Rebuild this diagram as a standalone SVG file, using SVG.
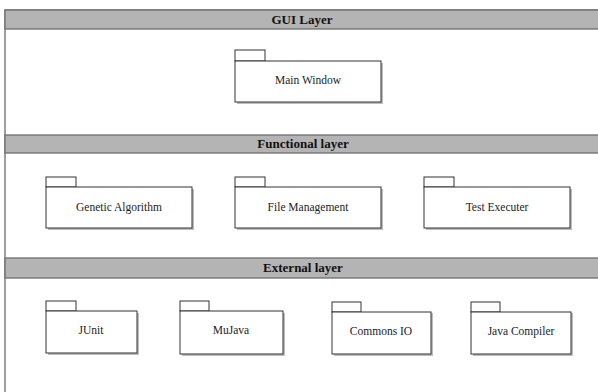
<svg xmlns="http://www.w3.org/2000/svg" width="598" height="392" viewBox="0 0 598 392">
<style>
.frame{fill:#fff;stroke:#6e6e6e;stroke-width:1.3}
.hdr{fill:#b4b4b4;stroke:#6e6e6e;stroke-width:1.3}
.ht{font-family:"Liberation Serif",serif;font-weight:bold;font-size:13px;fill:#111;text-anchor:middle}
.pk{fill:#fff;stroke:#333;stroke-width:1}
.sh{fill:#bdbdbd}
.lt{font-family:"Liberation Serif",serif;font-size:11.5px;fill:#222;text-anchor:middle}
</style>
<rect width="598" height="392" fill="#fff"/>
<g id="layers">
<rect class="frame" x="5" y="10" width="600" height="400"/>
<rect class="hdr" x="5" y="10" width="600" height="19"/>
<text class="ht" x="302" y="24">GUI Layer</text>
<rect class="hdr" x="5" y="135" width="600" height="18"/>
<text class="ht" x="303" y="148">Functional layer</text>
<rect class="hdr" x="5" y="258" width="600" height="20"/>
<text class="ht" x="303" y="272">External layer</text>
</g>
<g id="main-window">
<rect class="sh" x="237" y="63" width="146" height="41"/>
<rect class="pk" x="235" y="50" width="30" height="11"/>
<rect class="pk" x="235" y="61" width="146" height="41"/>
<text class="lt" x="308" y="84">Main Window</text>
</g>
<g id="genetic-algorithm">
<rect class="sh" x="48" y="189" width="146" height="41"/>
<rect class="pk" x="46" y="177" width="30" height="10"/>
<rect class="pk" x="46" y="187" width="146" height="41"/>
<text class="lt" x="119" y="211">Genetic Algorithm</text>
</g>
<g id="file-management">
<rect class="sh" x="237" y="189" width="146" height="41"/>
<rect class="pk" x="235" y="177" width="30" height="10"/>
<rect class="pk" x="235" y="187" width="146" height="41"/>
<text class="lt" x="308" y="211">File Management</text>
</g>
<g id="test-executer">
<rect class="sh" x="426" y="189" width="146" height="41"/>
<rect class="pk" x="424" y="177" width="30" height="10"/>
<rect class="pk" x="424" y="187" width="146" height="41"/>
<text class="lt" x="497" y="211">Test Executer</text>
</g>
<g id="junit">
<rect class="sh" x="48" y="313" width="91" height="42"/>
<rect class="pk" x="46" y="301" width="30" height="10"/>
<rect class="pk" x="46" y="311" width="91" height="42"/>
<text class="lt" x="91" y="334">JUnit</text>
</g>
<g id="mujava">
<rect class="sh" x="182" y="313" width="103" height="43"/>
<rect class="pk" x="180" y="301" width="29" height="10"/>
<rect class="pk" x="180" y="311" width="103" height="43"/>
<text class="lt" x="231" y="334">MuJava</text>
</g>
<g id="commons-io">
<rect class="sh" x="334" y="313" width="99" height="43"/>
<rect class="pk" x="332" y="302" width="29" height="10"/>
<rect class="pk" x="332" y="312" width="99" height="42"/>
<text class="lt" x="381" y="335">Commons IO</text>
</g>
<g id="java-compiler">
<rect class="sh" x="473" y="313" width="100" height="43"/>
<rect class="pk" x="471" y="302" width="29" height="10"/>
<rect class="pk" x="471" y="312" width="100" height="42"/>
<text class="lt" x="521" y="335">Java Compiler</text>
</g>
<g id="connectors"></g>
</svg>
